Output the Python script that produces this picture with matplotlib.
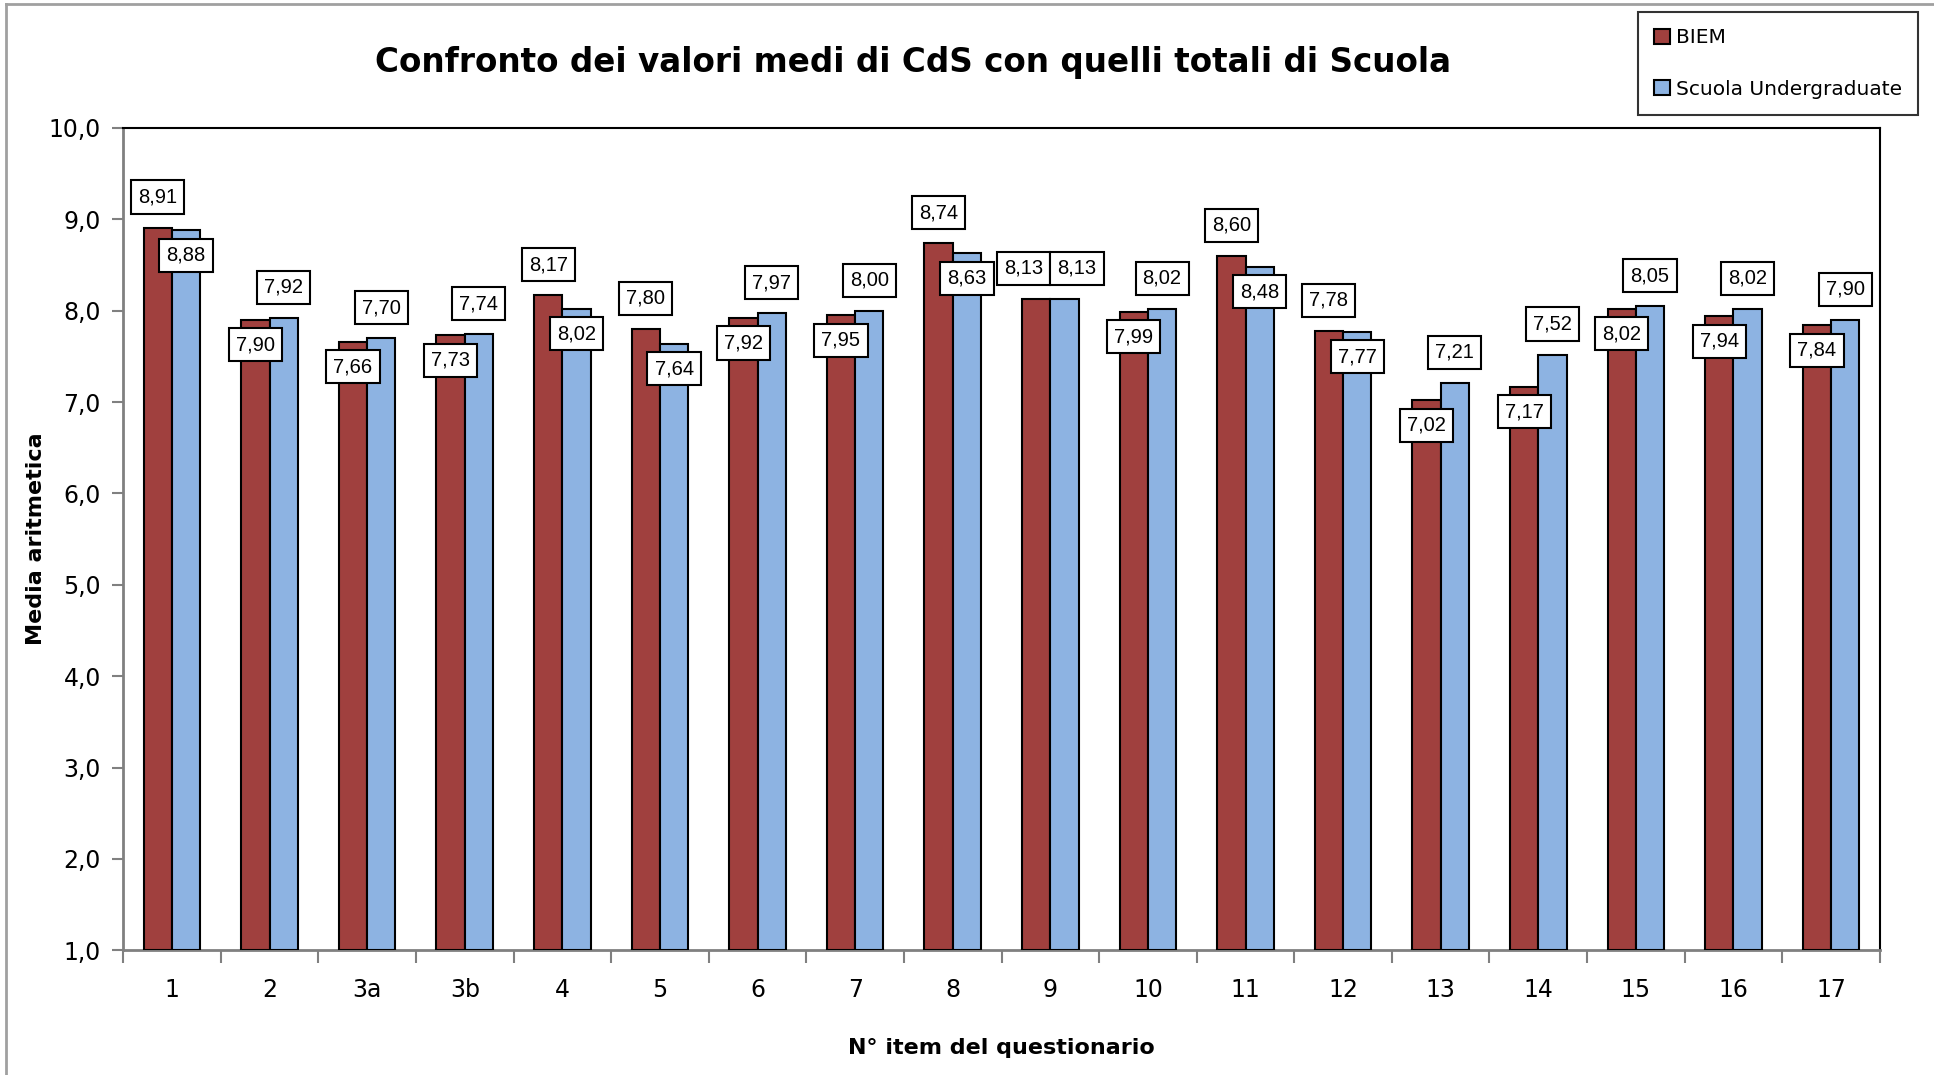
import numpy as np
import matplotlib
matplotlib.use('Agg')
import matplotlib.pyplot as plt
from matplotlib.lines import Line2D

items = ['1', '2', '3a', '3b', '4', '5', '6', '7', '8', '9', '10', '11', '12', '13', '14', '15', '16', '17']
biem = [8.91, 7.90, 7.66, 7.73, 8.17, 7.80, 7.92, 7.95, 8.74, 8.13, 7.99, 8.60, 7.78, 7.02, 7.17, 8.02, 7.94, 7.84]
scuola = [8.88, 7.92, 7.70, 7.74, 8.02, 7.64, 7.97, 8.00, 8.63, 8.13, 8.02, 8.48, 7.77, 7.21, 7.52, 8.05, 8.02, 7.90]

plt.rcParams['font.family'] = ['DejaVu Sans']
lab_font = ['Liberation Sans Narrow', 'Liberation Sans', 'DejaVu Sans']

red = '#A0403E'
blue = '#8DB3E2'
w = 0.29

fig = plt.figure(figsize=(19.34, 10.75), dpi=100)
ax = fig.add_axes([0.0637, 0.116, 0.9083, 0.765])

x = np.arange(len(items))
b1 = ax.bar(x - w / 2, np.array(biem) - 1, w, bottom=1, color=red, edgecolor='black', linewidth=1.5, label='BIEM', zorder=3)
b2 = ax.bar(x + w / 2, np.array(scuola) - 1, w, bottom=1, color=blue, edgecolor='black', linewidth=1.5, label='Scuola Undergraduate', zorder=3)

# etichette: quella più alta sopra la barra, quella più bassa a cavallo della cima
for i in range(len(items)):
    for k, (xs, v, other) in enumerate([(x[i] - w / 2, biem[i], scuola[i]), (x[i] + w / 2, scuola[i], biem[i])]):
        dy = 22 if v >= other else -18
        dx = 0
        if v == other:  # valori uguali: etichette affiancate
            dx = -9 if k == 0 else 9
        ax.annotate(f'{v:.2f}'.replace('.', ','), (xs, v), xytext=(dx, dy), textcoords='offset points',
                    ha='center', va='center', fontsize=14.5, family=lab_font, zorder=5,
                    bbox=dict(boxstyle='square,pad=0.35', fc='white', ec='black', lw=1.5))

ax.set_xlim(-0.5, len(items) - 0.5)
ax.set_ylim(1, 10)
ax.set_yticks(np.arange(1, 11))
ax.set_yticklabels([f'{v:.1f}'.replace('.', ',') for v in np.arange(1, 11)], fontsize=17)
ax.set_xticks(x)
ax.set_xticklabels(items, fontsize=17)
ax.tick_params(axis='x', length=0, pad=20)
ax.set_xticks(np.arange(-0.5, len(items)), minor=True)
ax.tick_params(axis='x', which='minor', length=9, width=1.5, color='#808080', direction='out')
ax.tick_params(axis='y', length=8, width=1.5, color='#808080', pad=8)

for s in ['left', 'bottom']:
    ax.spines[s].set_color('#808080')
    ax.spines[s].set_linewidth(2)
for s in ['top', 'right']:
    ax.spines[s].set_color('black')
    ax.spines[s].set_linewidth(1.5)

ax.set_xlabel('N° item del questionario', fontsize=16, fontweight='bold', labelpad=26)
ax.set_ylabel('Media aritmetica', fontsize=16, fontweight='bold', labelpad=2)
fig.text(0.472, 0.942, 'Confronto dei valori medi di CdS con quelli totali di Scuola',
         ha='center', va='center', fontsize=23.5, fontweight='bold')

leg = fig.legend(handles=[b1, b2], loc='upper right', bbox_to_anchor=(0.997, 0.998), fontsize=14.5,
                 frameon=True, fancybox=False, edgecolor='black', labelspacing=1.6,
                 handlelength=0.8, handleheight=0.8, handletextpad=0.3, borderpad=0.8)
leg.get_frame().set_linewidth(1.5)

# bordo grigio dell'area grafico
fig.add_artist(Line2D([0.003, 1.0], [0.996, 0.996], color='#A0A0A0', lw=2))
fig.add_artist(Line2D([0.003, 0.003], [0.0, 0.996], color='#A0A0A0', lw=2))

fig.savefig('out.png', dpi=100)
